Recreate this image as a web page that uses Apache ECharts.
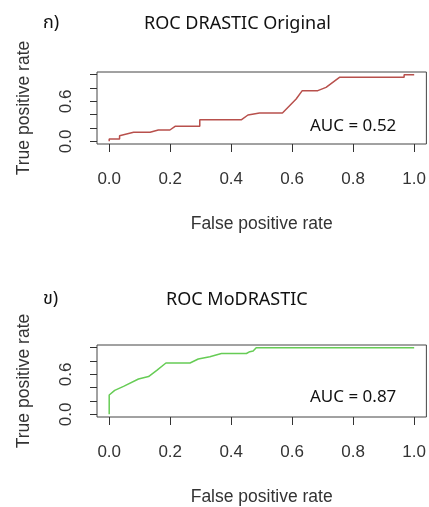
<!DOCTYPE html>
<html>
<head>
<meta charset="utf-8">
<script src="https://cdn.jsdelivr.net/npm/echarts@6/dist/echarts.min.js"></script>
<style>
  html, body { margin: 0; padding: 0; background: #fff; }
  #main { width: 429px; height: 507px; }
</style>
</head>
<body>
<div id="main"></div>
<script>
// ค่าที่อ่านจากภาพ: [false positive rate, true positive rate]
const rocOriginal = [
  [0, 0], [0, 0.035], [0.034, 0.035], [0.034, 0.085], [0.047, 0.1], [0.08, 0.135],
  [0.134, 0.135], [0.161, 0.17], [0.199, 0.17], [0.216, 0.225], [0.297, 0.225],
  [0.297, 0.325], [0.434, 0.325], [0.455, 0.395], [0.493, 0.425], [0.568, 0.425],
  [0.597, 0.56], [0.613, 0.635], [0.633, 0.76], [0.684, 0.76], [0.711, 0.81],
  [0.755, 0.96], [0.967, 0.96], [0.967, 1.0], [1.0, 1.0]
];
const rocModified = [
  [0, 0], [0, 0.29], [0.018, 0.36], [0.047, 0.42], [0.096, 0.53], [0.129, 0.567],
  [0.156, 0.66], [0.186, 0.77], [0.265, 0.77], [0.292, 0.83], [0.33, 0.865],
  [0.368, 0.913], [0.45, 0.913], [0.461, 0.94], [0.472, 0.95], [0.482, 1.0], [1.0, 1.0]
];
const xTicks = [0, 0.2, 0.4, 0.6, 0.8, 1.0];
const yTicks = [0, 0.2, 0.4, 0.6, 0.8, 1.0];
const yLabels = [0, 0.6];
const panelTags = ["ก)", "ข)"];
const panelTitles = ["ROC DRASTIC Original", "ROC MoDRASTIC"];
const aucTexts = ["AUC = 0.52", "AUC = 0.87"];

let chartDom = document.getElementById("main");
let myChart = echarts.init(chartDom);

const axisFont = "'Liberation Sans', Arial, sans-serif";
const thaiFont = "'Noto Sans Thai', Tahoma, 'Noto Sans', 'DejaVu Sans', sans-serif";
const axisColor = "#333";

const makeX = (gridIndex) => ({
  type: "value",
  gridIndex: gridIndex,
  min: -0.04,
  max: 1.04,
  name: "False positive rate",
  nameLocation: "middle",
  nameGap: 71,
  nameTextStyle: { fontFamily: axisFont, fontSize: 17.5, color: axisColor },
  axisLine: { show: false, onZero: false },
  axisTick: { show: true, length: 8, customValues: xTicks, lineStyle: { color: axisColor } },
  axisLabel: {
    customValues: xTicks,
    margin: 27,
    fontFamily: axisFont,
    fontSize: 17,
    color: axisColor,
    formatter: (v) => v.toFixed(1),
  },
  splitLine: { show: false },
});

const makeY = (gridIndex) => ({
  type: "value",
  gridIndex: gridIndex,
  min: -0.04,
  max: 1.04,
  name: "True positive rate",
  nameLocation: "middle",
  nameRotate: 90,
  nameGap: 64,
  nameTextStyle: { fontFamily: axisFont, fontSize: 17.5, color: axisColor },
  axisLine: { show: false, onZero: false },
  axisTick: { show: true, length: 7, customValues: yTicks, lineStyle: { color: axisColor } },
  axisLabel: {
    customValues: yLabels,
    rotate: 90,
    margin: 22,
    fontFamily: axisFont,
    fontSize: 17,
    color: axisColor,
    formatter: (v) => v.toFixed(1),
  },
  splitLine: { show: false },
});

const textTitle = (text, left, top, size) => ({
  text: text,
  left: left,
  top: top,
  padding: 0,
  textStyle: { fontFamily: thaiFont, fontSize: size, fontWeight: "normal", color: "#111" },
});

let option = {
  backgroundColor: "#fff",
  animation: false,
  title: [
    textTitle(panelTags[0], 43, 15, 18),
    textTitle(panelTitles[0], 144, 16, 18),
    textTitle(aucTexts[0], 310, 119, 17),
    textTitle(panelTags[1], 43, 291, 18),
    textTitle(panelTitles[1], 166, 292, 18),
    textTitle(aucTexts[1], 310, 390, 17),
  ],
  grid: [
    { left: 97, top: 72, right: 1, height: 72, show: true, borderColor: "#444", borderWidth: 1, backgroundColor: "transparent" },
    { left: 97, top: 345, right: 1, height: 73, show: true, borderColor: "#444", borderWidth: 1, backgroundColor: "transparent" },
  ],
  xAxis: [makeX(0), makeX(1)],
  yAxis: [makeY(0), makeY(1)],
  series: [
    {
      // เส้น ROC แบบเดิม
      type: "line",
      xAxisIndex: 0,
      yAxisIndex: 0,
      showSymbol: false,
      data: rocOriginal,
      lineStyle: { color: "#b8504c", width: 1.5 },
    },
    {
      // เส้น ROC แบบปรับปรุง
      type: "line",
      xAxisIndex: 1,
      yAxisIndex: 1,
      showSymbol: false,
      data: rocModified,
      lineStyle: { color: "#66cc55", width: 1.5 },
    },
  ],
};

option && myChart.setOption(option);
</script>
</body>
</html>
